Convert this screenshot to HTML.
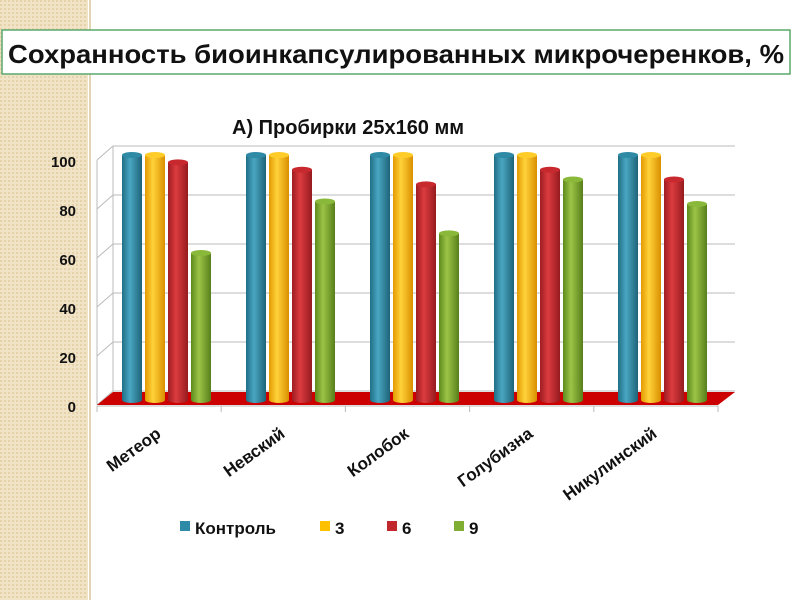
<!DOCTYPE html>
<html><head><meta charset="utf-8"><style>
body{margin:0;width:800px;height:600px;background:#fff;overflow:hidden;font-family:"Liberation Sans",sans-serif}
</style></head><body>
<svg width="800" height="600" xmlns="http://www.w3.org/2000/svg">
<defs>
<pattern id="pat" width="4" height="4" patternUnits="userSpaceOnUse"><rect width="4" height="4" fill="#f1e3c6"/><rect width="2" height="2" fill="#e6d2aa"/></pattern>
<linearGradient id="gb" x1="0" x2="1"><stop offset="0" stop-color="#1f6f86"/><stop offset=".4" stop-color="#4aa6c2"/><stop offset="1" stop-color="#1d6378"/></linearGradient>
<linearGradient id="gy" x1="0" x2="1"><stop offset="0" stop-color="#e39a00"/><stop offset=".4" stop-color="#ffd23a"/><stop offset="1" stop-color="#d98f00"/></linearGradient>
<linearGradient id="gr" x1="0" x2="1"><stop offset="0" stop-color="#9e1d22"/><stop offset=".4" stop-color="#dc3b3f"/><stop offset="1" stop-color="#951a1f"/></linearGradient>
<linearGradient id="gg" x1="0" x2="1"><stop offset="0" stop-color="#5d8a1e"/><stop offset=".4" stop-color="#9cc446"/><stop offset="1" stop-color="#577f1b"/></linearGradient>
</defs>
<rect x="0" y="0" width="88" height="600" fill="url(#pat)"/>
<line x1="90" y1="0" x2="90" y2="600" stroke="#e4d4b4" stroke-width="2"/>
<rect x="2" y="30" width="788" height="44" fill="#fff" stroke="#5aa86a" stroke-width="1.5"/>
<text x="8" y="63" font-size="26" font-weight="bold" fill="#111" textLength="776" lengthAdjust="spacingAndGlyphs">Сохранность биоинкапсулированных микрочеренков, %</text>
<text x="232" y="134" font-size="20" font-weight="bold" fill="#111">А)  Пробирки 25х160 мм</text>
<g id="chart"></g>
</svg>
<script>
const categories=["Метеор","Невский","Колобок","Голубизна","Никулинский"];
const seriesNames=["Контроль","3","6","9"];
const sControl=[100,100,100,100,100];
const s3=[100,100,100,100,100];
const s6=[97,94,88,94,90];
const s9=[60,81,68,90,80];
const yTicks=[0,20,40,60,80,100];
const series=[sControl,s3,s6,s9];
const fills=["url(#gb)","url(#gy)","url(#gr)","url(#gg)"];
const tops=["#2f8aa6","#ffcc2a","#c8292e","#8ab83a"];
const solid=["#2e8ba8","#ffc000","#c0282e","#7fae32"];
const NS="http://www.w3.org/2000/svg";
const g=document.getElementById('chart');
function mk(t,a,p){const e=document.createElementNS(NS,t);for(const k in a)e.setAttribute(k,a[k]);(p||g).appendChild(e);return e;}
const yBack=v=>391-v*2.45;
const yFront=v=>400-v*2.45;
const xGroup=i=>166+i*124;
yTicks.forEach(v=>{
 const l=mk('line',{x1:113,y1:yBack(v),x2:735,y2:yBack(v),stroke:'#bbb','stroke-width':1});
 
 
 mk('line',{x1:97,y1:yBack(v)+14,x2:113,y2:yBack(v),stroke:'#bbb'});
 const t=mk('text',{x:76,y:yBack(v)+21,'text-anchor':'end','font-size':15,'font-weight':'bold',fill:'#111'});
 t.textContent=v;
 
 
});
mk('line',{x1:113,y1:146,x2:113,y2:391,stroke:'#bbb'});
mk('line',{x1:97,y1:160,x2:97,y2:405,stroke:'#bbb'});
const fl=mk('polygon',{points:'97,405 113,392 735,392 718,405',fill:'#cc0000'});


mk('line',{x1:97,y1:406,x2:718,y2:406,stroke:'#bbb'});
for(let i=0;i<=5;i++){mk('line',{x1:97+i*124.2,y1:406,x2:97+i*124.2,y2:412,stroke:'#bbb'});}
categories.forEach((c,i)=>{
 series.forEach((s,j)=>{
  const cx=xGroup(i)-34+j*23, w=20, yt=yFront(s[i]), yb=400;
  const grp=mk('g',{});
  
  
  mk('rect',{x:cx-w/2,y:yt,width:w,height:yb-yt,fill:fills[j]},grp);
  mk('ellipse',{cx:cx,cy:yb,rx:w/2,ry:3,fill:fills[j]},grp);
  mk('ellipse',{cx:cx,cy:yt,rx:w/2,ry:3,fill:tops[j]},grp);
 });
 const ax=xGroup(i)-4, ay=436;
 const t=mk('text',{x:ax,y:ay,'text-anchor':'end','font-size':17,'font-weight':'bold',fill:'#111',transform:`rotate(-36 ${ax} ${ay})`});
 t.textContent=c;
 
 
});
const lx=[180,320,387,454];
seriesNames.forEach((n,j)=>{
 const lg=mk('g',{});
 
 
 mk('rect',{x:lx[j],y:521,width:10,height:10,fill:solid[j]},lg);
 const t=mk('text',{x:lx[j]+15,y:534,'font-size':17,'font-weight':'bold',fill:'#111'},lg);
 t.textContent=n;
});
</script>
</body></html>
